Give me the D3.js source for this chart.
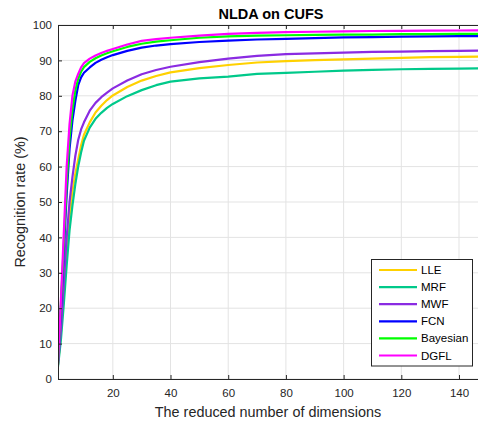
<!DOCTYPE html>
<meta charset="utf-8">
<script src="https://d3js.org/d3.v7.min.js"></script>
<style>
  body { margin: 0; background: #fff; }
  text { font-family: "Liberation Sans", Arial, sans-serif; }
</style>
<div id="my_dataviz"></div>
<script>
  // dimensions sampled along the x axis
  var dims = [1, 2, 3, 4, 5, 6, 7, 8, 9, 10, 12, 14, 16, 18, 20, 25, 30, 35, 40, 50, 60, 70, 80, 90, 100, 110, 120, 130, 140, 150];

  // recognition rates (%)
  var lle      = [4, 13, 24, 36, 46, 53, 58, 62, 66, 69, 72.5, 75.3, 77.2, 78.8, 80.1, 82.5, 84.3, 85.6, 86.6, 87.8, 88.7, 89.4, 89.8, 90.1, 90.3, 90.5, 90.7, 90.9, 91, 91.1];
  var mrf      = [3.5, 11, 21, 32, 42, 49, 55, 60, 64, 67.3, 71, 73.5, 75.2, 76.6, 77.7, 79.9, 81.6, 83, 84, 84.9, 85.4, 86.2, 86.5, 86.8, 87.1, 87.3, 87.5, 87.6, 87.7, 87.8];
  var mwf      = [4, 14, 27, 40, 50, 57, 63, 67.5, 70.5, 72.5, 75.8, 78, 79.6, 80.9, 82.1, 84.3, 86.1, 87.3, 88.2, 89.5, 90.5, 91.3, 91.8, 92, 92.2, 92.4, 92.5, 92.6, 92.7, 92.8];
  var fcn      = [5, 20, 36, 52, 65, 73, 78.5, 83, 85.2, 86.5, 88, 89.3, 90.2, 90.9, 91.5, 92.7, 93.6, 94.2, 94.6, 95.2, 95.6, 95.9, 96.1, 96.3, 96.5, 96.6, 96.7, 96.8, 96.85, 96.9];
  var bayesian = [4.3, 21, 38, 55, 68, 76, 81.5, 84.8, 86.8, 88.1, 89.6, 90.6, 91.4, 92, 92.6, 93.8, 94.7, 95.3, 95.7, 96.4, 96.8, 97, 97.1, 97.2, 97.3, 97.3, 97.4, 97.4, 97.5, 97.5];
  var dgfl     = [4.5, 22, 41, 60, 72, 80, 84, 86.2, 88, 89.2, 90.5, 91.4, 92.1, 92.7, 93.2, 94.5, 95.5, 96, 96.4, 97, 97.5, 97.8, 98, 98.1, 98.2, 98.3, 98.35, 98.4, 98.45, 98.5];

  var names  = ["LLE", "MRF", "MWF", "FCN", "Bayesian", "DGFL"];
  var colors = ["#ffd100", "#00c98a", "#8a2be2", "#0000ff", "#00ff00", "#ff00ff"];
  var series = [lle, mrf, mwf, fcn, bayesian, dgfl];

  var xTicks = [20, 40, 60, 80, 100, 120, 140];
  var yTicks = d3.range(0, 101, 10);

  var W = 478, H = 423;
  var mLeft = 58, mTop = 25, mBottom = 379;

  var svg = d3.select("#my_dataviz")
    .append("svg")
    .attr("width", W)
    .attr("height", H);

  var x = d3.scaleLinear().domain([1, 150]).range([mLeft, mLeft + 149 * 2.885]);
  var y = d3.scaleLinear().domain([0, 100]).range([mBottom, mTop]);
  var mRight = x(150);

  // grid
  svg.append("g").selectAll("line").data(xTicks).enter().append("line")
    .attr("x1", function (d) { return x(d); }).attr("x2", function (d) { return x(d); })
    .attr("y1", mTop).attr("y2", mBottom)
    .attr("stroke", "#e3e3e3").attr("stroke-width", 1);
  svg.append("g").selectAll("line").data(yTicks).enter().append("line")
    .attr("x1", mLeft).attr("x2", mRight)
    .attr("y1", function (d) { return y(d); }).attr("y2", function (d) { return y(d); })
    .attr("stroke", "#e3e3e3").attr("stroke-width", 1);

  // lines
  svg.append("clipPath").attr("id", "clip")
    .append("rect").attr("x", mLeft).attr("y", mTop).attr("width", mRight - mLeft).attr("height", mBottom - mTop);

  var line = d3.line()
    .x(function (d, i) { return x(dims[i]); })
    .y(function (d) { return y(d); });

  svg.append("g").attr("clip-path", "url(#clip)")
    .selectAll("path").data(series).enter().append("path")
    .attr("d", line)
    .attr("fill", "none")
    .attr("stroke", function (d, i) { return colors[i]; })
    .attr("stroke-width", 2.2)
    .attr("stroke-linejoin", "round");

  // axes
  var xAxis = svg.append("g")
    .attr("transform", "translate(0," + mBottom + ")")
    .call(d3.axisBottom(x).tickValues(xTicks).tickSize(-4).tickPadding(10));
  var xAxisTop = svg.append("g")
    .attr("transform", "translate(0," + mTop + ")")
    .call(d3.axisTop(x).tickValues(xTicks).tickSize(-4).tickFormat(""));
  var yAxis = svg.append("g")
    .attr("transform", "translate(" + mLeft + ",0)")
    .call(d3.axisLeft(y).tickValues(yTicks).tickSize(-4).tickPadding(6));

  [xAxis, xAxisTop, yAxis].forEach(function (g) {
    g.select(".domain").attr("stroke", "#262626").attr("stroke-width", 1);
    g.selectAll(".tick line").attr("stroke", "#262626");
    g.selectAll(".tick text").attr("fill", "#262626").style("font-size", "11.5px")
      .style("font-family", "'Liberation Sans', Arial, sans-serif");
  });

  // labels
  svg.append("text")
    .attr("x", 271).attr("y", 19)
    .attr("text-anchor", "middle")
    .style("font-size", "14.5px").style("font-weight", "bold")
    .attr("fill", "#000")
    .text("NLDA on CUFS");

  svg.append("text")
    .attr("x", 268).attr("y", 417)
    .attr("text-anchor", "middle")
    .style("font-size", "14.4px")
    .attr("fill", "#262626")
    .text("The reduced number of dimensions");

  svg.append("text")
    .attr("transform", "translate(25, 202)rotate(-90)")
    .attr("text-anchor", "middle")
    .style("font-size", "14.4px")
    .attr("fill", "#262626")
    .text("Recognition rate (%)");

  // legend
  var lg = svg.append("g");
  lg.append("rect")
    .attr("x", 371.5).attr("y", 259.5).attr("width", 101).attr("height", 106.5)
    .attr("fill", "#fff").attr("stroke", "#262626").attr("stroke-width", 1);
  var item = lg.selectAll("g.item").data(names).enter().append("g")
    .attr("class", "item")
    .attr("transform", function (d, i) { return "translate(0," + (270 + i * 17.1) + ")"; });
  item.append("line")
    .attr("x1", 379).attr("x2", 417)
    .attr("stroke", function (d, i) { return colors[i]; })
    .attr("stroke-width", 2.2);
  item.append("text")
    .attr("x", 421).attr("y", 4)
    .style("font-size", "11.5px")
    .attr("fill", "#000")
    .text(function (d) { return d; });
</script>
